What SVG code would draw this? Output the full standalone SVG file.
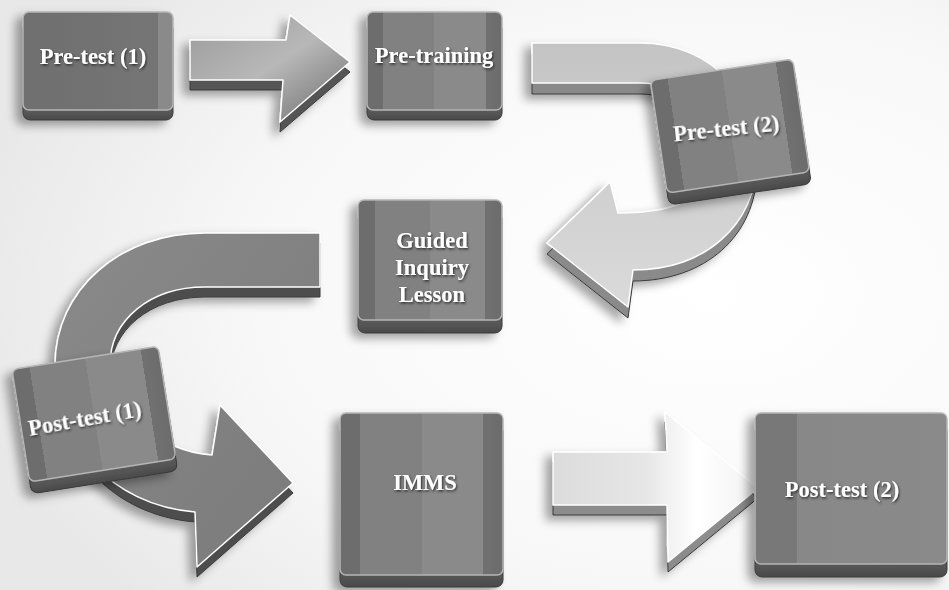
<svg xmlns="http://www.w3.org/2000/svg" width="949" height="590" viewBox="0 0 949 590">
<defs>
<radialGradient id="bg" cx="0.75" cy="0.5" r="0.8">
<stop offset="0" stop-color="#ffffff"/>
<stop offset="0.6" stop-color="#f8f8f8"/>
<stop offset="1" stop-color="#e8e8e8"/>
</radialGradient>
<linearGradient id="faceA" x1="0" y1="0" x2="1" y2="0">
<stop offset="0" stop-color="#6f6f6f"/>
<stop offset="0.9" stop-color="#757575"/>
<stop offset="0.9" stop-color="#8a8a8a"/>
<stop offset="1" stop-color="#8a8a8a"/>
</linearGradient>
<linearGradient id="faceB" x1="0" y1="0" x2="1" y2="0">
<stop offset="0" stop-color="#6d6d6d"/>
<stop offset="0.12" stop-color="#6d6d6d"/>
<stop offset="0.12" stop-color="#818181"/>
<stop offset="0.5" stop-color="#818181"/>
<stop offset="0.5" stop-color="#8a8a8a"/>
<stop offset="0.88" stop-color="#8a8a8a"/>
<stop offset="0.88" stop-color="#707070"/>
<stop offset="1" stop-color="#6c6c6c"/>
</linearGradient>
<linearGradient id="faceC" x1="0" y1="0" x2="1" y2="0">
<stop offset="0" stop-color="#787878"/>
<stop offset="0.22" stop-color="#787878"/>
<stop offset="0.22" stop-color="#888888"/>
<stop offset="1" stop-color="#8a8a8a"/>
</linearGradient>
<linearGradient id="lip" x1="0" y1="0" x2="0" y2="1">
<stop offset="0" stop-color="#5a5a5a"/>
<stop offset="0.5" stop-color="#9a9a9a"/>
<stop offset="1" stop-color="#4a4a4a"/>
</linearGradient>
<linearGradient id="a1" x1="0" y1="0" x2="1" y2="1">
<stop offset="0" stop-color="#9a9a9a"/>
<stop offset="0.5" stop-color="#b8b8b8"/>
<stop offset="1" stop-color="#6a6a6a"/>
</linearGradient>
<linearGradient id="a2" x1="0" y1="0" x2="0" y2="1">
<stop offset="0" stop-color="#c4c4c4"/>
<stop offset="1" stop-color="#dadada"/>
</linearGradient>
<linearGradient id="a3" x1="0" y1="0" x2="1" y2="1">
<stop offset="0" stop-color="#8a8a8a"/>
<stop offset="1" stop-color="#7a7a7a"/>
</linearGradient>
<linearGradient id="a4" x1="0" y1="0" x2="1" y2="0">
<stop offset="0" stop-color="#dcdcdc"/>
<stop offset="0.45" stop-color="#e6e6e6"/>
<stop offset="0.7" stop-color="#ffffff"/>
<stop offset="1" stop-color="#f2f2f2"/>
</linearGradient>
<filter id="sh" x="-20%" y="-20%" width="140%" height="150%">
<feDropShadow dx="-7" dy="5" stdDeviation="5" flood-color="#000" flood-opacity="0.35"/>
</filter>
<filter id="ts" x="-10%" y="-30%" width="120%" height="160%">
<feDropShadow dx="1" dy="1.5" stdDeviation="1.2" flood-color="#222" flood-opacity="0.9"/>
</filter>
<style>
.lip{fill:url(#lip);stroke:#3a3a3a;stroke-width:1}
.face{stroke:#b5b5b5;stroke-width:1.5}
.alip{stroke:#3a3a3a;stroke-width:1}
.aface{stroke:#ffffff;stroke-width:1.5;stroke-linejoin:round}
.t{font-family:"Liberation Serif","Times New Roman",serif;font-weight:bold;font-size:22.5px;fill:#ffffff;text-anchor:middle;filter:url(#ts)}
</style>
</defs>
<rect width="949" height="590" fill="url(#bg)"/>

<g id="connectors">
<g id="arrow1" filter="url(#sh)">
<path class="alip" fill="#555" transform="translate(0,10)" d="M190,40 L286,40 L290,15 L350,62 L280,122 L283,80 L190,80 Z"/>
<path class="aface" fill="url(#a1)" d="M190,40 L286,40 L290,15 L350,62 L280,122 L283,80 L190,80 Z"/>
</g>
<g id="arrow2" filter="url(#sh)">
<path class="alip" fill="#8a8a8a" transform="translate(0,11)" d="M532,43 L640,43 C715,43 758,100 757,160 C756,225 705,270 633,270 L628,307 L547,243 L610,182 L618,213 C680,213 712,195 712,160 C712,115 680,83 640,83 L532,83 Z"/>
<path class="aface" fill="url(#a2)" d="M532,43 L640,43 C715,43 758,100 757,160 C756,225 705,270 633,270 L628,307 L547,243 L610,182 L618,213 C680,213 712,195 712,160 C712,115 680,83 640,83 L532,83 Z"/>
</g>
<g id="arrow3" filter="url(#sh)">
<path class="alip" fill="#4e4e4e" transform="translate(0,10)" d="M320,233 L205,233 C120,233 55,290 55,365 C55,440 110,505 195,512 L197,567 L293,483 L220,405 L212,455 C160,452 110,410 110,365 C110,320 150,287 205,287 L320,287 Z"/>
<path class="aface" fill="url(#a3)" d="M320,233 L205,233 C120,233 55,290 55,365 C55,440 110,505 195,512 L197,567 L293,483 L220,405 L212,455 C160,452 110,410 110,365 C110,320 150,287 205,287 L320,287 Z"/>
</g>
<g id="arrow4" filter="url(#sh)">
<path class="alip" fill="#8c8c8c" transform="translate(0,10)" d="M553,452 L667,452 L665,412 L758,488 L668,562 L667,505 L553,505 Z"/>
<path class="aface" fill="url(#a4)" d="M553,452 L667,452 L665,412 L758,488 L668,562 L667,505 L553,505 Z"/>
</g>
</g>

<g id="node-pretest1" filter="url(#sh)">
<rect class="lip" x="23" y="22" width="150" height="98" rx="7"/>
<rect class="face" fill="url(#faceA)" x="23" y="12" width="150" height="98" rx="6"/>
<text class="t" x="93" y="64">Pre-test (1)</text>
</g>

<g id="node-pretraining" filter="url(#sh)">
<rect class="lip" x="367" y="22" width="135" height="98" rx="7"/>
<rect class="face" fill="url(#faceB)" x="367" y="12" width="135" height="98" rx="6"/>
<text class="t" x="434" y="63">Pre-training</text>
</g>

<g id="node-pretest2" filter="url(#sh)">
<g transform="translate(731,133) rotate(-8.5)">
<rect class="lip" x="-72" y="-56" width="144" height="118" rx="7"/>
<rect class="face" fill="url(#faceB)" x="-72" y="-64" width="144" height="114" rx="6"/>
</g>
<text class="t" transform="translate(727,136) rotate(-6)" x="0" y="0">Pre-test (2)</text>
</g>

<g id="node-guided" filter="url(#sh)">
<rect class="lip" x="358" y="212" width="144" height="121" rx="7"/>
<rect class="face" fill="url(#faceB)" x="358" y="200" width="144" height="120" rx="6"/>
<text class="t" x="432" y="248">Guided</text>
<text class="t" x="432" y="275">Inquiry</text>
<text class="t" x="432" y="302">Lesson</text>
</g>

<g id="node-posttest1" filter="url(#sh)">
<g transform="translate(95,421) rotate(-9)">
<rect class="lip" x="-74" y="-56" width="148" height="118" rx="7"/>
<rect class="face" fill="url(#faceB)" x="-74" y="-64" width="148" height="114" rx="6"/>
</g>
<text class="t" transform="translate(86,426) rotate(-10)" x="0" y="0">Post-test (1)</text>
</g>

<g id="node-imms" filter="url(#sh)">
<rect class="lip" x="340" y="425" width="163" height="162" rx="7"/>
<rect class="face" fill="url(#faceB)" x="340" y="413" width="163" height="162" rx="6"/>
<text class="t" x="425" y="490">IMMS</text>
</g>

<g id="node-posttest2" filter="url(#sh)">
<rect class="lip" x="755" y="425" width="192" height="152" rx="7"/>
<rect class="face" fill="url(#faceC)" x="755" y="413" width="192" height="151" rx="6"/>
<text class="t" x="842" y="497">Post-test (2)</text>
</g>
</svg>
